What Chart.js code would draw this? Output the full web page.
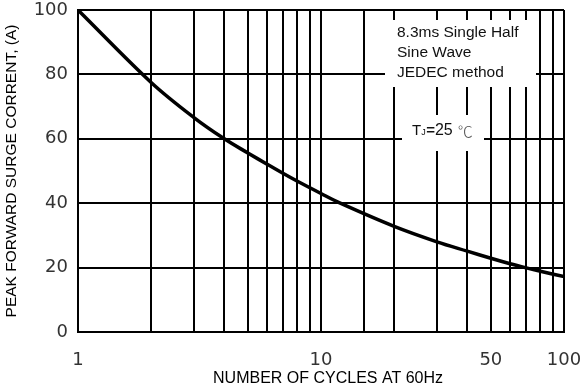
<!DOCTYPE html>
<html>
<head>
<meta charset="utf-8">
<script src="https://cdn.jsdelivr.net/npm/chart.js@4/dist/chart.umd.min.js"></script>
<style>
  html, body { margin: 0; padding: 0; background: #fff; }
  #wrap { width: 584px; height: 390px; position: relative; }
</style>
</head>
<body>
<div id="wrap"><canvas id="c" width="584" height="390"></canvas></div>
<script>
// Number of cycles at 60Hz and the matching peak forward surge current (A)
const cycles  = [1, 2, 3, 4, 5, 6, 7, 8, 10, 12, 20, 30, 40, 50, 60, 70, 80, 100];
const current = [100, 77.5, 66.6, 60, 55.6, 52.1, 49.2, 46.8, 43, 40, 32.8, 28, 25.1, 22.9, 21.2, 19.9, 18.85, 17.2];

// Labelled ticks on the log axis
const xTickLabels = [1, 10, 50, 100];
const yTicks = [0, 20, 40, 60, 80, 100];

const xTitle = 'NUMBER OF CYCLES AT 60Hz';
const yTitle = 'PEAK FORWARD SURGE CORRENT, (A)';
const noteLines = ['8.3ms Single Half', 'Sine Wave', 'JEDEC method'];
const tjNote = { t: 'T', sub: 'J', rest: '=25', unit: '\u2103' };

const TEXT_FONT = '"Liberation Sans", Arial, sans-serif';
const TICK_FONT = '"DejaVu Sans", sans-serif';

// Axis titles and condition notes (the notes sit on white boxes that mask the grid)
const notesPlugin = {
  id: 'notes',
  afterDraw(chart) {
    const ctx = chart.ctx;
    const area = chart.chartArea;
    ctx.save();
    ctx.fillStyle = '#000';
    ctx.textBaseline = 'middle';
    ctx.textAlign = 'center';
    ctx.font = '16px ' + TEXT_FONT;
    ctx.fillText(xTitle, area.left + (area.right - area.left) / 2 + 7, 379);
    ctx.save();
    ctx.translate(12, (area.top + area.bottom) / 2);
    ctx.rotate(-Math.PI / 2);
    ctx.font = '15.5px ' + TEXT_FONT;
    ctx.fillText(yTitle, 0, 0);
    ctx.restore();

    ctx.fillStyle = '#fff';
    ctx.fillRect(385, 20, 151, 67);
    ctx.fillRect(402, 115, 82, 36);

    ctx.fillStyle = '#111';
    ctx.textAlign = 'left';
    ctx.font = '15.5px ' + TEXT_FONT;
    noteLines.forEach((line, i) => ctx.fillText(line, 397, 33 + i * 19.7));

    let x = 412;
    const y = 131;
    ctx.font = '15px ' + TEXT_FONT;
    ctx.fillText(tjNote.t, x, y);
    x += ctx.measureText(tjNote.t).width;
    ctx.font = '9px ' + TEXT_FONT;
    ctx.fillText(tjNote.sub, x, y + 2);
    x += ctx.measureText(tjNote.sub).width + 0.5;
    ctx.font = 'bold 15px ' + TEXT_FONT;
    ctx.fillText(tjNote.rest.charAt(0), x, y);
    x += ctx.measureText(tjNote.rest.charAt(0)).width;
    ctx.font = '16px ' + TEXT_FONT;
    ctx.fillText(tjNote.rest.slice(1), x, y);
    x += ctx.measureText(tjNote.rest.slice(1)).width + 5;
    ctx.fillStyle = '#555';
    ctx.font = '300 15px "Noto Sans CJK JP", sans-serif';
    ctx.fillText(tjNote.unit, x, y);
    ctx.restore();
  }
};

new Chart(document.getElementById('c'), {
  type: 'line',
  data: {
    datasets: [{
      data: cycles.map((c, i) => ({ x: c, y: current[i] })),
      borderColor: '#000',
      borderWidth: 3.5,
      pointRadius: 0,
      fill: false,
      tension: 0.35
    }]
  },
  options: {
    responsive: false,
    animation: false,
    events: [],
    layout: { padding: 0 },
    plugins: { legend: { display: false }, tooltip: { enabled: false } },
    scales: {
      x: {
        type: 'logarithmic',
        min: 1,
        max: 100,
        afterFit(s) {
          s.height = 58;
          s.paddingLeft = 0;
          s.paddingRight = 20;
        },
        grid: { color: '#000', lineWidth: 2, drawTicks: false },
        border: { color: '#000', width: 2 },
        ticks: {
          autoSkip: false,
          maxRotation: 0,
          padding: 18,
          color: '#333',
          font: { family: TICK_FONT, size: 18 },
          callback: (v) => xTickLabels.includes(v) ? String(v) : ''
        }
      },
      y: {
        min: 0,
        max: 100,
        afterFit(s) {
          s.width = 78;
          s.paddingTop = 10;
          s.paddingBottom = 0;
        },
        afterBuildTicks(s) { s.ticks = yTicks.map(v => ({ value: v })); },
        grid: { color: '#000', lineWidth: 2, drawTicks: false },
        border: { color: '#000', width: 2 },
        ticks: {
          padding: 10,
          color: '#333',
          font: { family: TICK_FONT, size: 18 }
        }
      }
    }
  },
  plugins: [notesPlugin]
});
</script>
</body>
</html>
